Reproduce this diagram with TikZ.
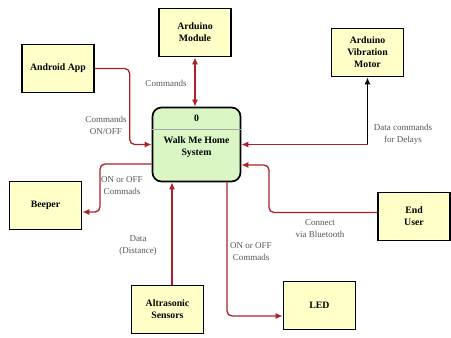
\documentclass[tikz,border=0pt]{standalone}
\usepackage{xcolor}
\usepackage{fontspec}
\setmainfont{Liberation Serif}
\usetikzlibrary{arrows.meta}

\definecolor{flowred}{RGB}{172,32,38}
\definecolor{extyellow}{RGB}{255,255,200}
\definecolor{procgreen}{RGB}{218,246,196}
\definecolor{lblgray}{RGB}{85,85,85}

\begin{document}
\begin{tikzpicture}[x=1pt, y=-1pt, -{Latex[length=7pt,width=6pt]},
    ext/.style={draw, line width=1.7pt, fill=extyellow, minimum width=72pt,
      minimum height=48pt, align=center, -,
      font=\bfseries\fontsize{9.8}{12}\selectfont},
    proc/.style={draw, line width=1.7pt, fill=procgreen, rounded corners=9pt,
      minimum width=88pt, minimum height=74pt, -},
    flow/.style={draw=flowred, line width=1.3pt, rounded corners=5pt},
    lbl/.style={text=lblgray, align=center, font=\fontsize{9}{12}\selectfont}]
      \useasboundingbox (0,0) rectangle (451,338);

      % external entities
      \node[ext] (module) at (195,32.5) {Arduino\\Module};
      \node[ext] (android) at (58,68.5) {Android App};
      \node[ext] (motor) at (367.5,52.5) {Arduino\\Vibration\\Motor};
      \node[ext] (beeper) at (45.5,205.5) {Beeper};
      \node[ext] (sensors) at (167.5,309.5) {Altrasonic\\Sensors};
      \node[ext] (led) at (319.5,305.5) {LED};
      \node[ext] (user) at (414,216.5) {End\\User};

      % the process
      \node[proc] (main) at (196.5,144.5) {};
      \draw[-, gray!70, line width=0.5pt] (main.west |- 0,129) -- (main.east |- 0,129);
      \node[font=\bfseries\fontsize{9.8}{12}\selectfont] (num) at (196.5,118) {0};
      \node[align=center, font=\bfseries\fontsize{9.8}{12}\selectfont] (title) at (196.5,147)
        {Walk Me Home\\System};

      % data flows
      \draw[flow, {Latex[length=7pt,width=6pt]}-{Latex[length=7pt,width=6pt]}]
        (module.south) -- (module.south |- main.north);
      \draw[flow] (android.east) -| ([xshift=-22pt]main.west) -- (main.west);
      \coordinate (delay) at (motor.south |- main.east);
      \draw[line width=1.3pt] (delay) -- (motor.south);
      \draw[flow] (delay) -- (main.east);
      \draw[flow] ([yshift=4pt]user.west) -| (269,165) -- (main.east |- 269,165);
      \draw[flow] (main.west |- 0,164) -| (100,212) -- (beeper.east |- 0,212);
      \draw[flow] (sensors.north -| 172,0) -- (main.south -| 172,0);
      \draw[flow] (main.south -| 227,0) |- (led.west |- 0,316);

      % flow labels
      \node[lbl] (l1) at (166,83) {Commands};
      \node[lbl] (l2) at (106,125) {Commands\\ON/OFF};
      \node[lbl] (l3) at (403,134) {Data commands\\for Delays};
      \node[lbl] (l4) at (320,229) {Connect\\via Bluetooth};
      \node[lbl] (l5) at (122,186) {ON or OFF\\Commads};
      \node[lbl] (l6) at (138,246) {Data\\(Distance)};
      \node[lbl] (l7) at (251,252) {ON or OFF\\Commads};

\end{tikzpicture}
\end{document}
